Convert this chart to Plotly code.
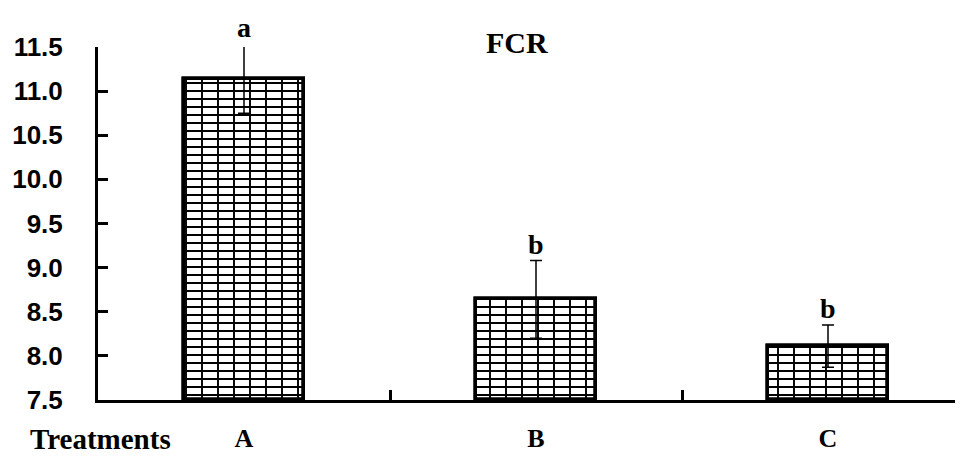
import plotly.graph_objects as go

categories = ["A", "B", "C"]
fcr_values = [11.14, 8.64, 8.11]
fcr_errors = [0.39, 0.44, 0.24]
sig_letters = ["a", "b", "b"]
y_ticks = [7.5, 8.0, 8.5, 9.0, 9.5, 10.0, 10.5, 11.0, 11.5]
y_tick_labels = ["7.5", "8.0", "8.5", "9.0", "9.5", "10.0", "10.5", "11.0", "11.5"]

# page body has a default 8px margin; compensate
OFF = 8
W, H = 963 - OFF, 457 - OFF
ML, MR, MT, MB = 98 - OFF, 0, 47 - OFF, 57
plot_w = W - ML - MR
plot_h = H - MT - MB
cat_px = 292.0
x_max = -0.5 + plot_w / cat_px

serif = "Liberation Serif"

fig = go.Figure()
# horizontal mortar lines + fill
fig.add_trace(go.Bar(
    x=categories, y=[v - 7.5 for v in fcr_values], base=7.5,
    width=0.41, cliponaxis=False,
    marker=dict(color="white",
                line=dict(color="black", width=3.5),
                pattern=dict(shape="-", size=8, solidity=0.25,
                             fgcolor="black", bgcolor="white", fillmode="replace")),
    showlegend=False, hoverinfo="skip",
))
# vertical mortar lines overlay with error bars
fig.add_trace(go.Bar(
    x=categories, y=[v - 7.5 for v in fcr_values], base=7.5,
    width=0.41, cliponaxis=False,
    marker=dict(color="rgba(0,0,0,0)",
                line=dict(color="black", width=3.5),
                pattern=dict(shape="|", size=16, solidity=0.12,
                             fgcolor="black", bgcolor="rgba(0,0,0,0)", fillmode="replace")),
    error_y=dict(type="data", array=fcr_errors, visible=True,
                 color="black", thickness=1.5, width=6),
    showlegend=False, hoverinfo="skip",
))

# significance letters: anchored at bar top (inside range), text placed at error-bar top
for c, v, e, s in zip(categories, fcr_values, fcr_errors, sig_letters):
    fig.add_annotation(x=c, y=v, ax=0, ay=v + e, axref="pixel", ayref="y",
                       text=s, showarrow=True, arrowcolor="rgba(0,0,0,0)", arrowwidth=0.1,
                       xanchor="center", yanchor="bottom", yshift=0, borderpad=0,
                       font=dict(family=serif, size=28, color="black", weight="bold"))

fig.add_annotation(x=(517 - 98) / plot_w, y=1 + (47 - 42) / plot_h,
                   xref="paper", yref="paper", text="FCR", showarrow=False,
                   xanchor="center", yanchor="middle",
                   font=dict(family=serif, size=30, color="black", weight="bold"))
fig.add_annotation(x=(100 - 98) / plot_w, y=-(439 - 400) / plot_h,
                   xref="paper", yref="paper", text="Treatments", showarrow=False,
                   xanchor="center", yanchor="middle",
                   font=dict(family=serif, size=29, color="black", weight="bold"))

fig.update_layout(
    width=W, height=H,
    margin=dict(l=ML, r=MR, t=MT, b=MB, pad=0),
    paper_bgcolor="white", plot_bgcolor="white",
    barmode="overlay", bargap=0,
)
fig.update_xaxes(
    range=[-0.5, x_max], showgrid=False, zeroline=False,
    showline=True, linecolor="black", linewidth=3,
    ticks="inside", tickson="boundaries", ticklen=10, tickwidth=3, tickcolor="black",
    tickfont=dict(family=serif, size=26, color="black", weight="bold"),
    ticklabelstandoff=13, automargin=False,
)
fig.update_yaxes(
    range=[7.5, 11.5], showgrid=False, zeroline=False,
    showline=True, linecolor="black", linewidth=3,
    ticks="inside", ticklen=10, tickwidth=3, tickcolor="black",
    tickvals=y_ticks, ticktext=y_tick_labels,
    tickfont=dict(family="Liberation Sans", size=26, color="black", weight="bold"),
    ticklabelstandoff=27, automargin=False,
)

fig.write_html("out.html")
